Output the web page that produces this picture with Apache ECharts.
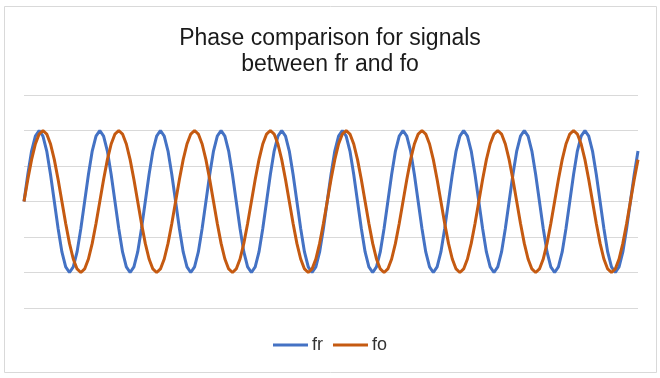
<!DOCTYPE html>
<html>
<head>
<meta charset="utf-8">
<script src="https://cdn.jsdelivr.net/npm/echarts@6/dist/echarts.min.js"></script>
<style>
html, body { margin: 0; padding: 0; background: #fff; }
#chart { width: 660px; height: 378px; }
</style>
</head>
<body>
<div id="chart"></div>
<script>
// fr signal (about 16 samples per period)
var fr = [
	0, 0.38, 0.71, 0.92, 1, 0.92, 0.71, 0.38, 0, -0.38, -0.71, -0.92, -1, -0.92, -0.71, -0.38,
	0, 0.38, 0.71, 0.92, 1, 0.92, 0.71, 0.38, 0, -0.38, -0.71, -0.92, -1, -0.92, -0.71, -0.38,
	0, 0.38, 0.71, 0.92, 1, 0.92, 0.71, 0.38, 0, -0.38, -0.71, -0.92, -1, -0.92, -0.71, -0.38,
	0, 0.38, 0.71, 0.92, 1, 0.92, 0.71, 0.38, 0, -0.38, -0.71, -0.92, -1, -0.92, -0.71, -0.38,
	0, 0.38, 0.71, 0.92, 1, 0.92, 0.71, 0.38, 0, -0.38, -0.71, -0.92, -1, -0.92, -0.71, -0.38,
	0, 0.38, 0.71, 0.92, 1, 0.92, 0.71, 0.38, 0, -0.38, -0.71, -0.92, -1, -0.92, -0.71, -0.38,
	0, 0.38, 0.71, 0.92, 1, 0.92, 0.71, 0.38, 0, -0.38, -0.71, -0.92, -1, -0.92, -0.71, -0.38,
	0, 0.38, 0.71, 0.92, 1, 0.92, 0.71, 0.38, 0, -0.38, -0.71, -0.92, -1, -0.92, -0.71, -0.38,
	0, 0.38, 0.71, 0.92, 1, 0.92, 0.71, 0.38, 0, -0.38, -0.71, -0.92, -1, -0.92, -0.71, -0.38,
	0, 0.38, 0.71, 0.92, 1, 0.92, 0.71, 0.38, 0, -0.38, -0.71, -0.92, -1, -0.92, -0.71, -0.38,
	0, 0.38, 0.71
];
// fo signal (about 20 samples per period)
var fo = [
	0, 0.31, 0.59, 0.81, 0.95, 1, 0.95, 0.81, 0.59, 0.31, 0, -0.31, -0.59, -0.81, -0.95, -1, -0.95, -0.81, -0.59, -0.31,
	0, 0.31, 0.59, 0.81, 0.95, 1, 0.95, 0.81, 0.59, 0.31, 0, -0.31, -0.59, -0.81, -0.95, -1, -0.95, -0.81, -0.59, -0.31,
	0, 0.31, 0.59, 0.81, 0.95, 1, 0.95, 0.81, 0.59, 0.31, 0, -0.31, -0.59, -0.81, -0.95, -1, -0.95, -0.81, -0.59, -0.31,
	0, 0.31, 0.59, 0.81, 0.95, 1, 0.95, 0.81, 0.59, 0.31, 0, -0.31, -0.59, -0.81, -0.95, -1, -0.95, -0.81, -0.59, -0.31,
	0, 0.31, 0.59, 0.81, 0.95, 1, 0.95, 0.81, 0.59, 0.31, 0, -0.31, -0.59, -0.81, -0.95, -1, -0.95, -0.81, -0.59, -0.31,
	0, 0.31, 0.59, 0.81, 0.95, 1, 0.95, 0.81, 0.59, 0.31, 0, -0.31, -0.59, -0.81, -0.95, -1, -0.95, -0.81, -0.59, -0.31,
	0, 0.31, 0.59, 0.81, 0.95, 1, 0.95, 0.81, 0.59, 0.31, 0, -0.31, -0.59, -0.81, -0.95, -1, -0.95, -0.81, -0.59, -0.31,
	0, 0.31, 0.59, 0.81, 0.95, 1, 0.95, 0.81, 0.59, 0.31, 0, -0.31, -0.59, -0.81, -0.95, -1, -0.95, -0.81, -0.59, -0.31,
	0, 0.31, 0.59
];
var seriesNames = ['fr', 'fo'];
var yMin = -1.5, yMax = 1.5, yStep = 0.5;

// sample index is the category (labels are hidden in the original)
var samples = fr.map(function(v, i){ return String(i); });

var myChart = echarts.init(document.getElementById('chart'));
var option = {
	animation: false,
	backgroundColor: '#fff',
	title: {
		text: 'Phase comparison for signals\nbetween fr and fo',
		left: 'center',
		top: 26,
		padding: 0,
		textStyle: {
			fontFamily: 'Liberation Sans',
			fontSize: 23,
			fontWeight: 'normal',
			color: '#1a1a1a',
			lineHeight: 26
		}
	},
	legend: {
		data: seriesNames,
		bottom: 19,
		left: 'center',
		icon: 'rect',
		itemWidth: 35,
		itemHeight: 3,
		itemGap: 10,
		textStyle: {
			fontFamily: 'Liberation Sans',
			fontSize: 18,
			color: '#333',
			padding: [0, 0, 0, -1]
		}
	},
	grid: {
		left: 24,
		right: 22,
		top: 95,
		bottom: 70
	},
	xAxis: {
		type: 'category',
		data: samples,
		boundaryGap: false,
		axisLine: { show: false },
		axisTick: { show: false },
		axisLabel: { show: false },
		splitLine: { show: false }
	},
	yAxis: {
		type: 'value',
		min: yMin,
		max: yMax,
		interval: yStep,
		axisLine: { show: false },
		axisTick: { show: false },
		axisLabel: { show: false },
		splitLine: { lineStyle: { color: '#d9d9d9', width: 1 } }
	},
	graphic: [{
		type: 'rect',
		shape: { x: 4.5, y: 6.5, width: 652, height: 366 },
		style: { fill: 'none', stroke: '#d9d9d9', lineWidth: 1 },
		silent: true
	}],
	series: [
		{
			name: 'fr',
			type: 'line',
			data: fr,
			showSymbol: false,
			smooth: false,
			lineStyle: { color: '#4472c4', width: 3 },
			itemStyle: { color: '#4472c4' }
		},
		{
			name: 'fo',
			type: 'line',
			data: fo,
			showSymbol: false,
			smooth: false,
			lineStyle: { color: '#c55a11', width: 3 },
			itemStyle: { color: '#c55a11' }
		}
	]
};
myChart.setOption(option);
</script>
</body>
</html>
